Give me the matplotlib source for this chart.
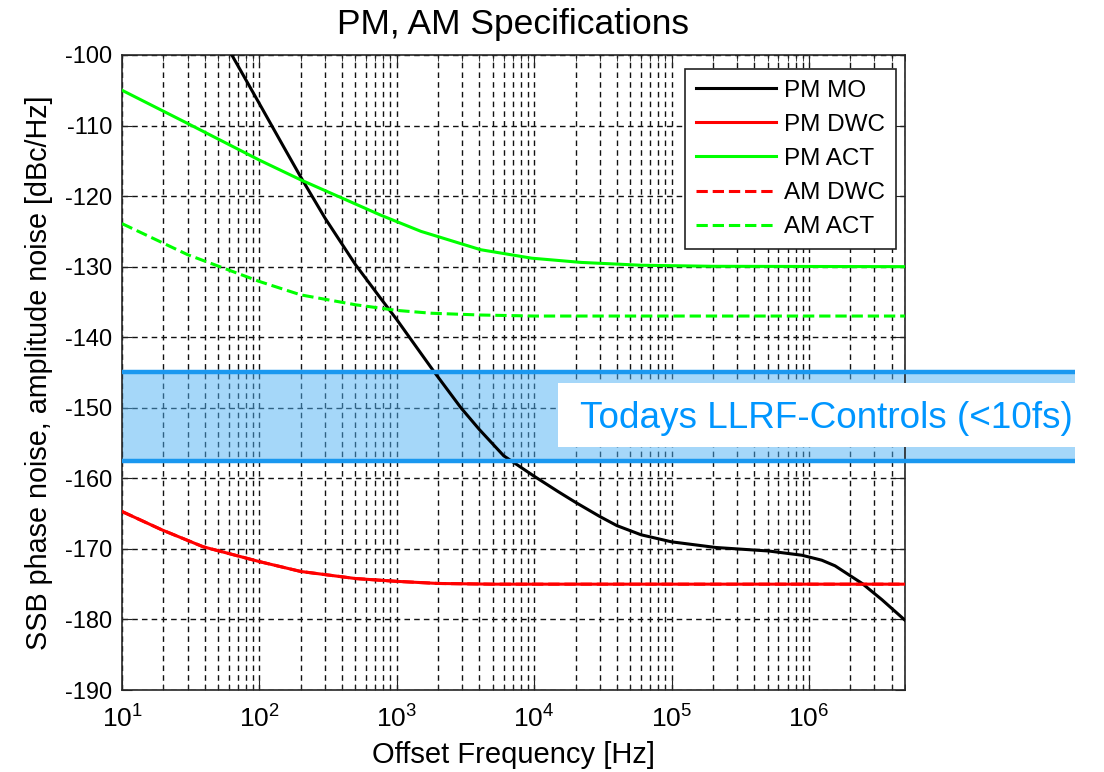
import numpy as np
import matplotlib.pyplot as plt
import matplotlib.transforms as mtransforms
from matplotlib.patches import Rectangle
from matplotlib.ticker import LogLocator, FixedLocator, NullFormatter

plt.rcParams['font.family'] = ['Liberation Sans', 'DejaVu Sans']
plt.rcParams['mathtext.fontset'] = 'custom'
plt.rcParams['mathtext.rm'] = 'Liberation Sans'
plt.rcParams['mathtext.default'] = 'regular'
plt.rcParams['axes.unicode_minus'] = False

#------------------------------------data--------------------------------
# PM MO (black)
f_mo = [50, 63, 100, 150, 200, 300, 500, 764, 1000, 1500, 1870, 2930, 4000, 6000, 1e4,
        1.5e4, 2e4, 3e4, 4e4, 6e4, 1e5, 2.1e5, 5.1e5, 8.9e5, 1.24e6, 1.55e6, 2.44e6,
        3.4e6, 5e6]
pm_mo_db = [-96.5, -100.0, -106.9, -113.0, -117.3, -123.1, -129.7, -134.5, -137.5, -142.3,
            -144.9, -150.0, -153.1, -156.8, -159.7, -161.9, -163.4, -165.4, -166.7, -168.0,
            -169.0, -169.8, -170.3, -170.9, -171.6, -172.4, -174.9, -177.2, -180.1]

# PM DWC / AM DWC (red)
f_dwc = [10, 19.5, 39, 100, 200, 500, 1000, 2000, 5000, 5e6]
pm_dwc_db = [-164.7, -167.3, -169.7, -171.8, -173.2, -174.2, -174.6, -174.9, -175.0, -175.0]
am_dwc_db = [-164.7, -167.3, -169.7, -171.8, -173.2, -174.2, -174.6, -174.9, -175.0, -175.0]

# PM ACT (green solid)
f_pm_act = [10, 30, 100, 200, 764, 1500, 4080, 9600, 2.2e4, 6e4, 2e5, 5e6]
pm_act_db = [-105.0, -109.7, -114.9, -117.7, -122.7, -125.0, -127.6, -128.8, -129.4,
             -129.8, -129.95, -130.0]

# AM ACT (green dashed)
f_am_act = [10, 30, 100, 200, 500, 1000, 1780, 4000, 1e4, 5e6]
am_act_db = [-123.9, -128.3, -132.1, -134.0, -135.4, -136.2, -136.6, -136.85, -137.0, -137.0]

band_db = [-145.0, -157.5]
box_db = [-146.5, -155.6]
band_text = 'Todays LLRF-Controls (<10fs)'

#------------------------------------------plot---------------------------------------------
fig = plt.figure(figsize=(11.04, 7.72), dpi=100)
ax = fig.add_axes([0.1105, 0.1062, 0.7092, 0.8226])
ax.set_axisbelow(True)

ax.semilogx(f_dwc, am_dwc_db, color='#ff0000', ls='--', lw=2.2, label='AM DWC', zorder=3)
ax.semilogx(f_mo, pm_mo_db, color='black', lw=2.2, label='PM MO', zorder=4)
ax.semilogx(f_dwc, pm_dwc_db, color='#ff0000', lw=2.2, label='PM DWC', zorder=4)
ax.semilogx(f_pm_act, pm_act_db, color='#00ff00', lw=2.2, label='PM ACT', zorder=4)
ax.semilogx(f_am_act, am_act_db, color='#00ff00', ls='--', lw=2.2, label='AM ACT', zorder=4)

ax.set_xlim(10, 5e6)
ax.set_ylim(-190, -100)
ax.set_yticks(np.arange(-190, -99, 10))
ax.xaxis.set_major_locator(FixedLocator([1e1, 1e2, 1e3, 1e4, 1e5, 1e6]))
ax.xaxis.set_minor_locator(LogLocator(base=10, subs=np.arange(2, 10), numticks=20))
ax.xaxis.set_minor_formatter(NullFormatter())

ax.grid(True, which='major', axis='both', color='#111111', ls=(0, (4, 3)), lw=1.0)
ax.grid(True, which='minor', axis='x', color='#111111', ls=(0, (4, 3)), lw=1.0)
ax.tick_params(which='both', direction='in', top=True, right=True, colors='#222222',
               labelcolor='black')
ax.tick_params(axis='y', labelsize=17, pad=7)
ax.tick_params(axis='x', labelsize=19, pad=11)
ax.tick_params(which='major', length=7)
ax.tick_params(which='minor', length=4)
for s in ax.spines.values():
    s.set_color('#262626')
    s.set_linewidth(1.2)

ax.set_title('PM, AM Specifications', fontsize=25.5, pad=15)
ax.set_xlabel('Offset Frequency [Hz]', fontsize=21, labelpad=6)
ax.set_ylabel('SSB phase noise, amplitude noise [dBc/Hz]', fontsize=20.7, labelpad=9)

handles, labels = ax.get_legend_handles_labels()
order = [1, 2, 3, 0, 4]
leg = ax.legend([handles[i] for i in order], [labels[i] for i in order],
                loc='upper right', bbox_to_anchor=(0.989, 0.9786), borderaxespad=0,
                fontsize=17.5, handlelength=3.3, handletextpad=0.35, labelspacing=0.5,
                fancybox=False, framealpha=1, edgecolor='#222222', borderpad=0.45)
leg.get_frame().set_linewidth(1.2)
leg.set_zorder(5)

# blue band reaching past the right edge of the axes
trans = mtransforms.blended_transform_factory(ax.transAxes, ax.transData)
x_end = (1075 - 122) / 783
ax.add_patch(Rectangle((0, band_db[1]), x_end, band_db[0] - band_db[1], transform=trans,
                       facecolor='#4db1f5', alpha=0.5, edgecolor='none', clip_on=False, zorder=2))
for yb in band_db:
    ax.plot([0, x_end], [yb, yb], transform=trans, color='#1a98f0', lw=3.2,
            clip_on=False, zorder=6, solid_capstyle='butt')
x_box = (558 - 122) / 783
ax.add_patch(Rectangle((x_box, box_db[1]), x_end - x_box, box_db[0] - box_db[1],
                       transform=trans, facecolor='white', edgecolor='none',
                       clip_on=False, zorder=7))
ax.text((580 - 122) / 783, np.mean(band_db) - 0.2, band_text, transform=trans,
        fontsize=26.6, color='#0096ff', va='center', ha='left', zorder=8)

plt.savefig('out.png', dpi=100)
